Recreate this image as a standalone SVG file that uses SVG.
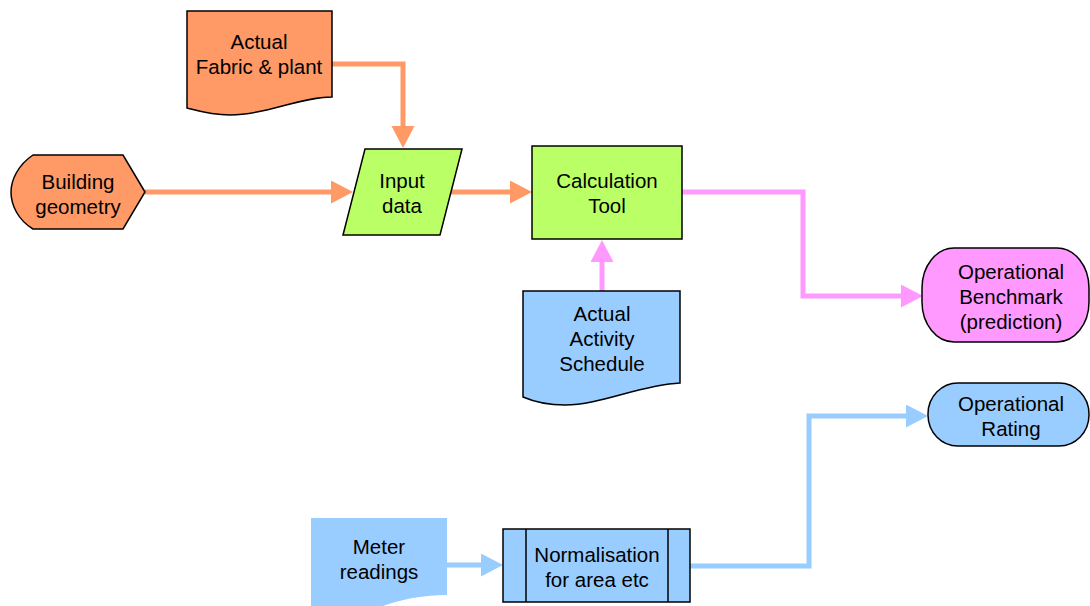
<svg xmlns="http://www.w3.org/2000/svg" width="1090" height="606" viewBox="0 0 1090 606">
<defs>
<style>
.t{font-family:"Liberation Sans",Arial,sans-serif;font-size:20.5px;fill:#000;text-anchor:middle}
.sh{stroke:#000;stroke-width:1.5;stroke-linejoin:miter}
.or{fill:#FF9966}.gr{fill:#BBFF66}.pk{fill:#FF99FF}.bl{fill:#99CCFF}
.c{fill:none;stroke-width:5;stroke-linejoin:miter}
.co{stroke:#FF9966}.cp{stroke:#FF99FF}.cb{stroke:#99CCFF}
</style>
<marker id="ao" markerUnits="userSpaceOnUse" markerWidth="23" markerHeight="24" refX="0" refY="11.5" orient="auto"><path d="M0,0 L22,11.5 L0,23 Z" fill="#FF9966"/></marker>
<marker id="ap" markerUnits="userSpaceOnUse" markerWidth="23" markerHeight="24" refX="0" refY="11.5" orient="auto"><path d="M0,0 L22,11.5 L0,23 Z" fill="#FF99FF"/></marker>
<marker id="ab" markerUnits="userSpaceOnUse" markerWidth="23" markerHeight="24" refX="0" refY="11.5" orient="auto"><path d="M0,0 L22,11.5 L0,23 Z" fill="#99CCFF"/></marker>
</defs>
<rect width="1090" height="606" fill="#fff"/>
<g id="connectors">
<path class="c co" d="M332,64 H403 V126" marker-end="url(#ao)"/>
<path class="c co" d="M145,192 H331" marker-end="url(#ao)"/>
<path class="c co" d="M450,192 H510" marker-end="url(#ao)"/>
<path class="c cp" d="M682,192 H803 V296 H901" marker-end="url(#ap)"/>
<path class="c cp" d="M602,291 V262" marker-end="url(#ap)"/>
<path class="c cb" d="M447,565 H481" marker-end="url(#ab)"/>
<path class="c cb" d="M690,566 H809 V416 H906" marker-end="url(#ab)"/>
</g>
<g id="fabric">
<path class="sh or" d="M187,11 H332 V97 C300,97 265,115 230,115 C210,115 195,110 187,108 Z"/>
<text class="t" x="259" y="49">Actual</text>
<text class="t" x="259" y="74">Fabric &amp; plant</text>
</g>
<g id="building">
<path class="sh or" d="M145,192 L123,155 H33 C18,165 11,180 11,192 C11,205 18,220 33,229 H123 Z"/>
<text class="t" x="78" y="189">Building</text>
<text class="t" x="78" y="214">geometry</text>
</g>
<g id="input">
<path class="sh gr" d="M365,149 H462 L440,235 H343 Z"/>
<text class="t" x="402" y="188">Input</text>
<text class="t" x="402" y="213">data</text>
</g>
<g id="calc">
<rect class="sh gr" x="532" y="146" width="150" height="93"/>
<text class="t" x="607" y="188">Calculation</text>
<text class="t" x="607" y="213">Tool</text>
</g>
<g id="activity">
<path class="sh bl" d="M523,291 H680 V383 C640,385 600,405 565,405 C545,405 530,400 523,397 Z"/>
<text class="t" x="602" y="321">Actual</text>
<text class="t" x="602" y="346">Activity</text>
<text class="t" x="602" y="371">Schedule</text>
</g>
<g id="benchmark">
<rect class="sh pk" x="922" y="248" width="167" height="94" rx="32" ry="40"/>
<text class="t" x="1011" y="279">Operational</text>
<text class="t" x="1011" y="304">Benchmark</text>
<text class="t" x="1011" y="329">(prediction)</text>
</g>
<g id="rating">
<rect class="sh bl" x="928" y="383" width="161" height="63" rx="30" ry="31"/>
<text class="t" x="1011" y="411">Operational</text>
<text class="t" x="1011" y="436">Rating</text>
</g>
<g id="meter">
<path class="bl" d="M311,518 H447 V595 C420,595 400,600 383,606 C360,612 330,615 311,612 Z"/>
<text class="t" x="379" y="554">Meter</text>
<text class="t" x="379" y="579">readings</text>
</g>
<g id="normalisation">
<rect class="sh bl" x="503" y="529" width="187" height="73"/>
<line class="sh" x1="526" y1="529" x2="526" y2="602"/>
<line class="sh" x1="668" y1="529" x2="668" y2="602"/>
<text class="t" x="597" y="562">Normalisation</text>
<text class="t" x="597" y="587">for area etc</text>
</g>
</svg>
